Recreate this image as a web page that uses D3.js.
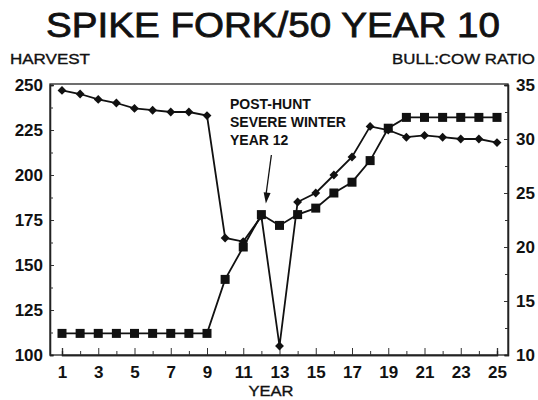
<!DOCTYPE html>
<html><head><meta charset="utf-8">
<script src="https://cdn.jsdelivr.net/npm/d3@7"></script>
<style>
body{margin:0;background:#fff;}
svg text{font-family:"Liberation Sans",Arial,Helvetica,sans-serif;fill:#111;}
</style></head>
<body><svg id="c" width="538" height="400"></svg>
<script>
const years = d3.range(1, 26);
const harvest = [247,245,242,240,237,236,235,235,233,165,163,177,105,185,190,200,210,227,225,221,222,221,220,220,218];
const bullCowRatio = [12,12,12,12,12,12,12,12,12,17,20,23,22,23,23.6,25,26,28,31,32,32,32,32,32,32];
const leftTicks = [100,125,150,175,200,225,250];
const rightTicks = [10,15,20,25,30,35];
const xTickLabels = [1,3,5,7,9,11,13,15,17,19,21,23,25];
const titleText = "SPIKE FORK/50 YEAR 10";
const annotationLines = ["POST-HUNT","SEVERE WINTER","YEAR 12"];

const svg = d3.select("#c");
const L = 50, R = 508, T = 84, B = 355;
const x = d3.scaleLinear().domain([1,25]).range([62,497]);
const yL = d3.scaleLinear().domain([100,250]).range([B,85]);
const yR = d3.scaleLinear().domain([10,35]).range([B,85]);

// title & axis headers
svg.append("text").attr("x",46).attr("y",36.5).attr("font-size",35)
  .attr("stroke","#111").attr("stroke-width",0.8)
  .attr("textLength",454).attr("lengthAdjust","spacingAndGlyphs").text(titleText);
svg.append("text").attr("x",10).attr("y",64).attr("font-size",14)
  .attr("stroke","#111").attr("stroke-width",0.35)
  .attr("textLength",80).attr("lengthAdjust","spacingAndGlyphs").text("HARVEST");
svg.append("text").attr("x",392).attr("y",64).attr("font-size",14)
  .attr("stroke","#111").attr("stroke-width",0.35)
  .attr("textLength",143).attr("lengthAdjust","spacingAndGlyphs").text("BULL:COW RATIO");

// frame
svg.append("rect").attr("x",L).attr("y",T).attr("width",R-L).attr("height",B-T)
  .attr("fill","none").attr("stroke","#222").attr("stroke-width",1.3);

// left axis
const gL = svg.append("g").attr("transform",`translate(${L},0)`);
gL.call(d3.axisLeft(yL).tickValues(leftTicks).tickSize(-4).tickPadding(7).tickFormat(d3.format("d")));
gL.append("g").call(d3.axisLeft(yL).tickValues(d3.range(112.5,250,25)).tickSize(-3).tickFormat(""));
// right axis
const gR = svg.append("g").attr("transform",`translate(${R},0)`);
gR.call(d3.axisRight(yR).tickValues(rightTicks).tickSize(-4).tickPadding(8).tickFormat(d3.format("d")));
gR.append("g").call(d3.axisRight(yR).tickValues(d3.range(12.5,35,5)).tickSize(-3).tickFormat(""));
// bottom axis
const gB = svg.append("g").attr("transform",`translate(0,${B})`);
gB.call(d3.axisBottom(x).tickValues(xTickLabels).tickSize(-7).tickPadding(6).tickFormat(d3.format("d")));
gB.append("g").call(d3.axisBottom(x).tickValues(years.filter(d=>d%2===0)).tickSize(-4).tickFormat(""));

svg.selectAll(".domain").attr("stroke","#222").attr("stroke-width",1.3);
svg.selectAll(".tick line").attr("stroke","#333").attr("stroke-width",1);
svg.selectAll(".tick text").attr("font-size",17).attr("font-weight","bold")
  .attr("font-family","'Liberation Sans',Arial,sans-serif").attr("fill","#111");
gB.selectAll(".tick text").attr("dy","1em");

svg.append("text").attr("x",271).attr("y",396).attr("text-anchor","middle").attr("font-size",14)
  .attr("stroke","#111").attr("stroke-width",0.35)
  .attr("textLength",45).attr("lengthAdjust","spacingAndGlyphs").text("YEAR");

// series lines
const lineH = d3.line().x((d,i)=>x(years[i])).y(d=>yL(d));
const lineR = d3.line().x((d,i)=>x(years[i])).y(d=>yR(d));
svg.append("path").datum(harvest).attr("d",lineH).attr("fill","none").attr("stroke","#111").attr("stroke-width",1.8);
svg.append("path").datum(bullCowRatio).attr("d",lineR).attr("fill","none").attr("stroke","#111").attr("stroke-width",1.8);

// markers
svg.append("g").selectAll("path").data(harvest).join("path")
  .attr("d",d3.symbol(d3.symbolDiamond2,50))
  .attr("transform",(d,i)=>`translate(${x(years[i])},${yL(d)})`).attr("fill","#111");
svg.append("g").selectAll("rect").data(bullCowRatio).join("rect")
  .attr("x",(d,i)=>x(years[i])-4.5).attr("y",d=>yR(d)-4.5).attr("width",9).attr("height",9).attr("fill","#111");

// annotation
const ann = svg.append("g");
annotationLines.forEach((t,i)=>{
  ann.append("text").attr("x",230).attr("y",109+i*18).attr("font-size",14).attr("font-weight","bold").text(t);
});
const tipX = x(12)+4.5, tipY = yR(23)-11;
const tailX = x(12)+10, tailY = 155;
ann.append("line").attr("x1",tailX).attr("y1",tailY).attr("x2",tipX).attr("y2",tipY-8)
  .attr("stroke","#111").attr("stroke-width",1.3);
const ang = Math.atan2(tipY-tailY, tipX-tailX);
const hl = 11, hw = 3.5;
const bx = tipX - hl*Math.cos(ang), by = tipY - hl*Math.sin(ang);
const px = -Math.sin(ang)*hw, py = Math.cos(ang)*hw;
ann.append("path").attr("d",`M${tipX},${tipY}L${bx+px},${by+py}L${bx-px},${by-py}Z`).attr("fill","#111");
</script></body></html>
